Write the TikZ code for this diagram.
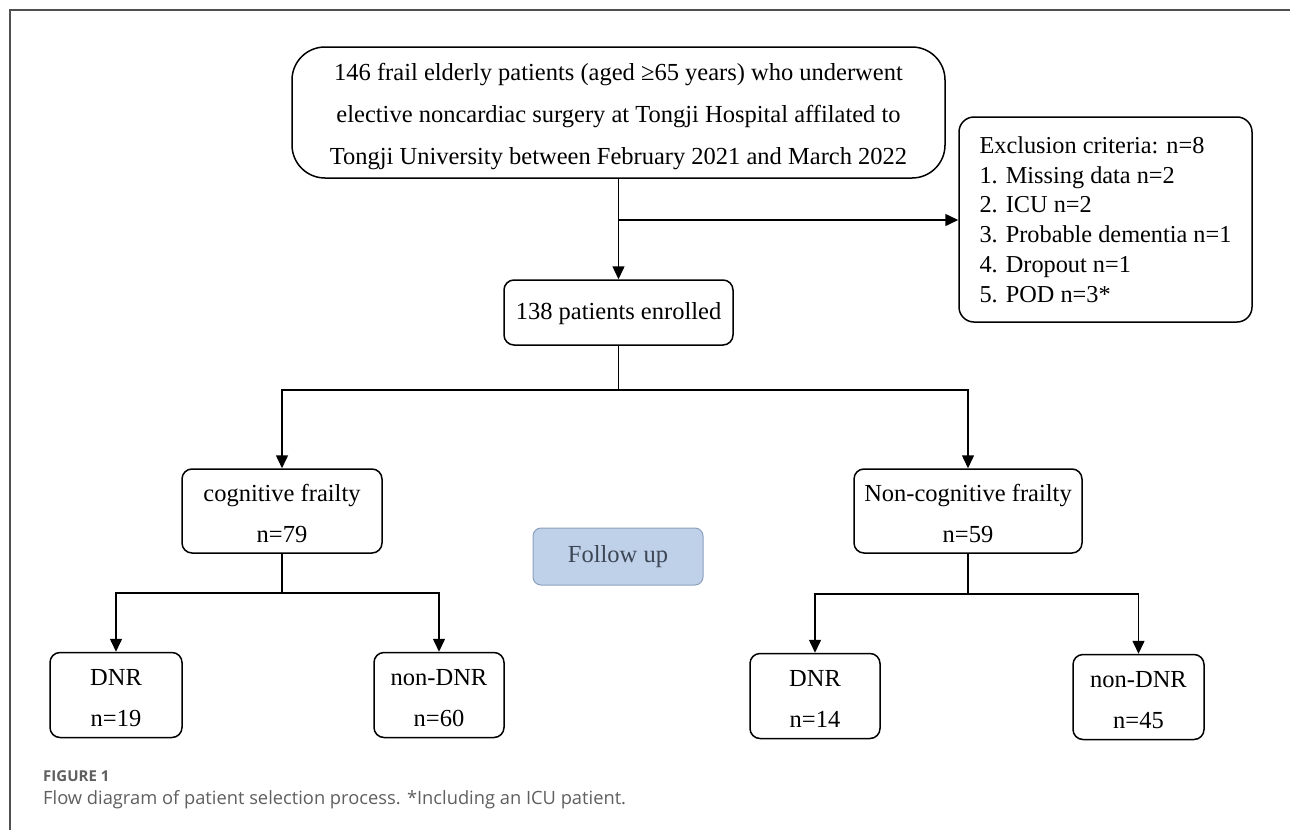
\documentclass[tikz,border=0pt]{standalone}
\usepackage{fontspec}
\setmainfont{Liberation Serif}
\newfontfamily\capfont{Open Sans}
\usetikzlibrary{arrows.meta}
\definecolor{fufill}{RGB}{191,209,233}
\definecolor{fudraw}{RGB}{140,160,190}
\definecolor{futext}{RGB}{60,70,85}
\definecolor{framegray}{RGB}{80,80,80}
\definecolor{capgray}{RGB}{95,95,95}
\newcommand\upstrut[1]{\rule{0pt}{#1}}
\begin{document}
\begin{tikzpicture}[x=1pt,y=-1pt,
  box/.style={draw=black, line width=1.5pt, rounded corners=10pt, align=center, inner sep=0pt,
    font=\fontsize{24.5}{41}\selectfont},
  conn/.style={line width=1.5pt, draw=black},
  arr/.style={conn, -{Triangle[length=13pt,width=12pt]}},
]
\useasboundingbox (0,0) rectangle (1290,830);
\fill[white] (0,0) rectangle (1290,830);
% frame
\draw[framegray, line width=1.5pt] (10,830) -- (10,10) -- (1290,10);

% nodes
\node[box, minimum width=653pt, minimum height=131pt, rounded corners=33pt,
  font=\fontsize{24.5}{42}\selectfont] (top) at (618.5,112.5)
  {\upstrut{25pt}146 frail elderly patients (aged ≥65 years) who underwent\\
   elective noncardiac surgery at Tongji Hospital affilated to\\
   Tongji University between February 2021 and March 2022};
\node[box, minimum width=293pt, minimum height=205pt, rounded corners=15pt, align=left,
  font=\fontsize{24.3}{29.7}\selectfont] (excl) at (1105.5,219.5)
  {Exclusion criteria: n=8\\
   1. Missing data n=2\\
   2. ICU n=2\\
   3. Probable dementia n=1\\
   4. Dropout n=1\\
   5. POD n=3*};
\node[box, minimum width=229pt, minimum height=65pt] (enr) at (618.5,312.5) {\upstrut{20pt}138 patients enrolled};
\node[box, minimum width=200pt, minimum height=84pt] (cog) at (282,511) {\upstrut{23pt}cognitive frailty\\n=79};
\node[box, minimum width=228pt, minimum height=84pt] (ncog) at (968,511) {\upstrut{23pt}Non-cognitive frailty\\n=59};
\node[box, draw=fudraw, fill=fufill, text=futext, line width=1pt, rounded corners=8pt,
  minimum width=170pt, minimum height=57pt] (fu) at (618,556.5) {Follow up};
\node[box, minimum width=132pt, minimum height=85pt] (dnr1) at (116,695) {\upstrut{22pt}DNR\\n=19};
\node[box, minimum width=130pt, minimum height=85pt] (ndnr1) at (439,695) {\upstrut{22pt}non-DNR\\n=60};
\node[box, minimum width=130pt, minimum height=85pt] (dnr2) at (815,696) {\upstrut{22pt}DNR\\n=14};
\node[box, minimum width=131pt, minimum height=85pt] (ndnr2) at (1138.5,697) {\upstrut{22pt}non-DNR\\n=45};

% connectors
\coordinate (j1) at (618.5,220);
\draw[arr] (top.south) -- (enr.north);
\draw[arr] (j1) -- (j1 -| excl.west);
\coordinate (b1) at (618.5,390);
\draw[conn] (enr.south) -- (b1);
\draw[arr] (b1) -| (cog.north);
\draw[arr] (b1) -| (ncog.north);
\coordinate (b2) at (282,593);
\draw[conn] (cog.south) -- (b2);
\draw[arr] (b2) -| (dnr1.north);
\draw[arr] (b2) -| (ndnr1.north);
\coordinate (b3) at (968,594);
\draw[conn] (ncog.south) -- (b3);
\draw[arr] (b3) -| (dnr2.north);
\draw[arr] (b3) -| (ndnr2.north);

% caption
\node[anchor=base west, inner sep=0pt, text=capgray, font=\capfont\bfseries\fontsize{15}{17}\selectfont]
  (figlab) at (43,781) {FIGURE 1};
\node[anchor=base west, inner sep=0pt, text=capgray, font=\capfont\fontsize{18.3}{21}\selectfont]
  (cap) at (43,804) {Flow diagram of patient selection process. *Including an ICU patient.};
\end{tikzpicture}
\end{document}
